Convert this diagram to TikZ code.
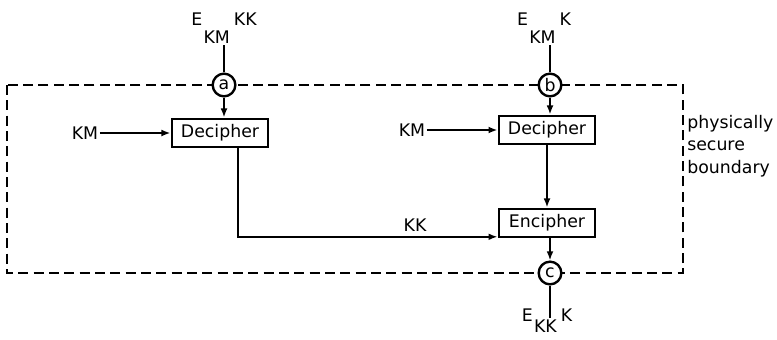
\documentclass[tikz,border=0pt]{standalone}
\usepackage{fontspec}
\setmainfont{DejaVu Sans}
\usepackage{tikz}
\usetikzlibrary{arrows.meta,calc,positioning}
\newcommand{\keylbl}[4][14pt]{#2\kern1pt\lower#1\hbox{#3}\kern3pt #4}

\begin{document}
\begin{tikzpicture}[
    x=.75pt,y=-.75pt,
    font=\fontsize{13}{17}\selectfont,
    blk/.style={draw,line width=2.1pt,minimum width=72pt,minimum height=21pt,inner sep=0pt},
    port/.style={circle,draw,line width=1.8pt,fill=white,minimum size=17pt,inner sep=0pt},
    lbl/.style={inner sep=1pt},
    bound/.style={line width=1.5pt,dash pattern=on 7.5pt off 4pt},
    ln/.style={line width=1.6pt},
    arr/.style={-{Latex[length=2.4mm,width=1.8mm]},line width=1.6pt}
  ]
    \useasboundingbox (0,0) rectangle (777,339);
    \draw[bound] (7,85) rectangle (683,273);
    \node[port] (a) at (224,85) {a}; \node[port] (b) at (550,85) {b};
    \node[port] (c) at (550,273) {c};
    \node[blk] (decL) at (220,133) {Decipher}; \node[blk] (decR) at (547,130) {Decipher};
    \node[blk] (enc) at (547,223) {Encipher};
    \node[lbl,anchor=base] (inA) at (224,25) {\keylbl{E}{KM}{KK}};
    \node[lbl,anchor=base] (inB) at (544,25) {\keylbl{E}{KM}{K}};
    \node[lbl,anchor=base] (outC) at (547,321) {\keylbl[8.5pt]{E}{KK}{K}};
    \coordinate (cend) at (550,318);
    \node[lbl] (kmL) at (85,133) {KM}; \node[lbl] (kmR) at (412,130) {KM};
    \node[lbl] (kk) at (415,225) {KK};
    \node[align=left,anchor=west,inner sep=0pt] (note) at (687,146) {physically\\secure\\boundary};
    \draw[ln] (a) -- (a |- inA.south); \draw[ln] (b) -- (b |- inB.south);
    \draw[ln] (c) -- (cend);
    \draw[arr] (a) -- (a |- decL.north); \draw[arr] (b) -- (b |- decR.north);
    \draw[arr] (kmL) -- (decL); \draw[arr] (kmR) -- (decR);
    \draw[arr] (decR) -- (enc); \draw[arr] (enc.south -| c) -- (c);
    \draw[arr] ([xshift=13.5pt]decL.south) |- ([yshift=1.2pt]enc.south west);
\end{tikzpicture}
\end{document}
